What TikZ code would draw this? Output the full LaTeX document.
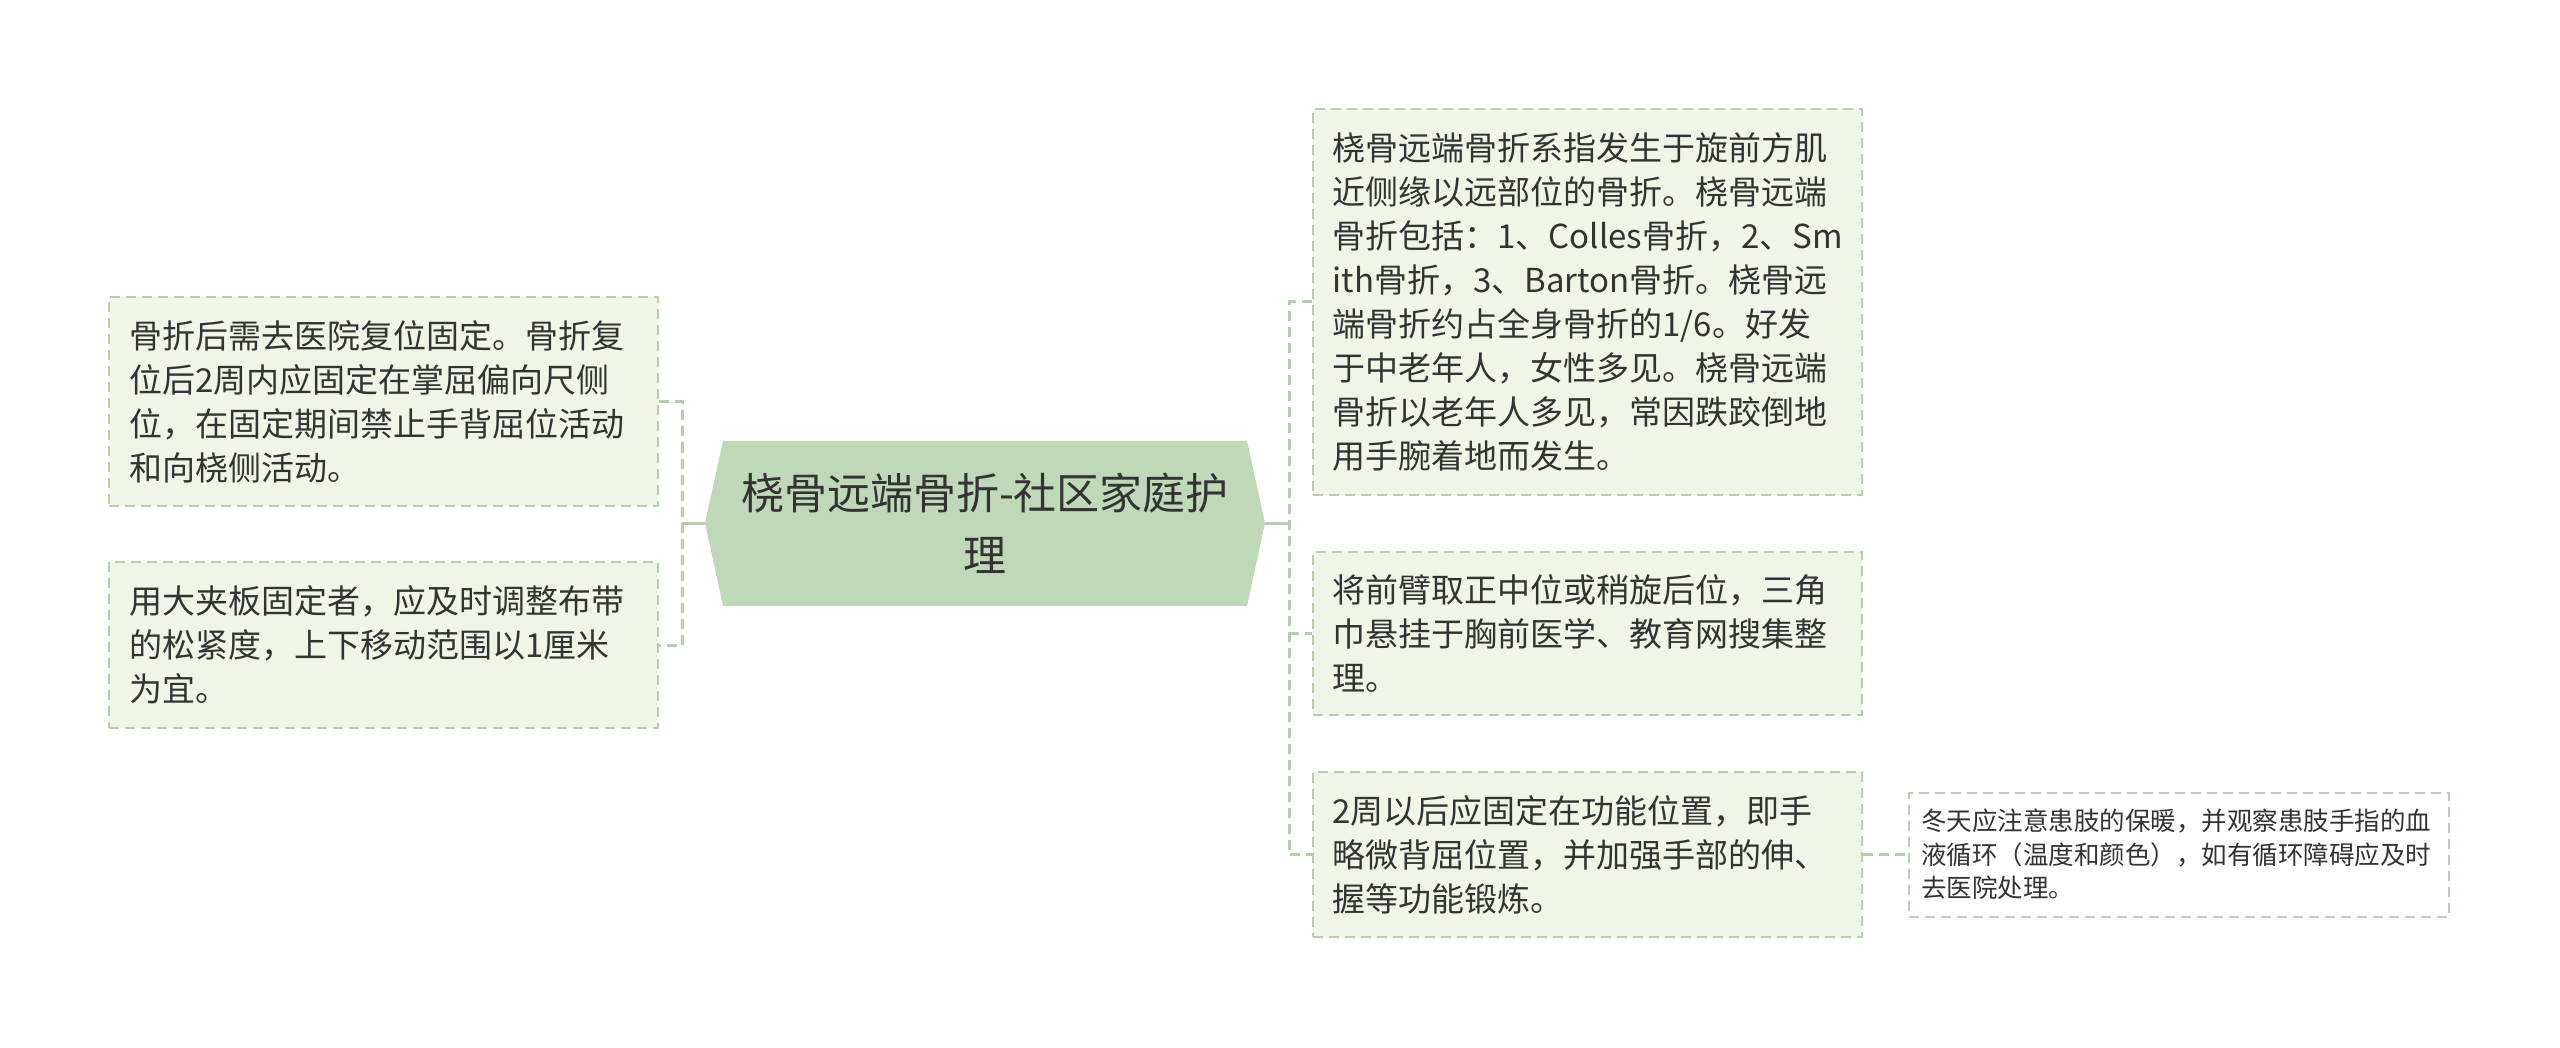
\documentclass[tikz,border=0pt]{standalone}
\usepackage{fontspec}
\setmainfont{Noto Sans CJK SC}
\usetikzlibrary{positioning}
\definecolor{leaffill}{HTML}{EFF6E8}
\definecolor{leafedge}{HTML}{B5CFAE}
\definecolor{rootfill}{HTML}{BFD9B8}
\definecolor{linkcol}{HTML}{B4CFAE}
\definecolor{inkcol}{HTML}{333333}
\tikzset{
  leaf/.style={draw=leafedge, line width=2, dash pattern=on 10 off 6, fill=leaffill,
    minimum width=549, text width=509, inner xsep=20, align=left, text=inkcol,
    font=\fontsize{33}{44}\selectfont},
  smallleaf/.style={leaf, fill=white, minimum width=540, text width=516, inner xsep=12,
    font=\fontsize{25.5}{33.5}\selectfont},
  rootlabel/.style={align=center, text=inkcol, font=\fontsize{43}{62}\selectfont},
  link/.style={draw=linkcol, line width=3, dash pattern=on 10 off 6},
  trunk/.style={draw=linkcol, line width=3}
}
\begin{document}
\begin{tikzpicture}[x=1pt,y=-1pt]
\useasboundingbox (0,0) rectangle (2560,1048);

\coordinate (rootW) at (705,523);
\coordinate (rootE) at (1265,523);
\fill[rootfill] (rootW) -- (723,441) -- (1247,441) -- (rootE) -- (1247,606) -- (723,606) -- cycle;
\node[rootlabel] (root) at (985,523) {桡骨远端骨折-社区家庭护\\理};

\node[leaf, minimum height=209] (l1) at (383.5,401.5) {骨折后需去医院复位固定。骨折复\\位后2周内应固定在掌屈偏向尺侧\\位，在固定期间禁止手背屈位活动\\和向桡侧活动。};
\node[leaf, minimum height=166] (l2) at (383.5,645) {用大夹板固定者，应及时调整布带\\的松紧度，上下移动范围以1厘米\\为宜。};

\node[leaf, minimum height=386] (r1) at (1587,302) {桡骨远端骨折系指发生于旋前方肌\\近侧缘以远部位的骨折。桡骨远端\\骨折包括：1、Colles骨折，2、Sm\\ith骨折，3、Barton骨折。桡骨远\\端骨折约占全身骨折的1/6。好发\\于中老年人，女性多见。桡骨远端\\骨折以老年人多见，常因跌跤倒地\\用手腕着地而发生。};
\node[leaf, minimum height=163] (r2) at (1587,633.5) {将前臂取正中位或稍旋后位，三角\\巾悬挂于胸前医学、教育网搜集整\\理。};
\node[leaf, minimum height=165] (r3) at (1587,854.5) {2周以后应固定在功能位置，即手\\略微背屈位置，并加强手部的伸、\\握等功能锻炼。};
\node[smallleaf, minimum height=124] (s1) at (2179,854.5) {冬天应注意患肢的保暖，并观察患肢手指的血\\液循环（温度和颜色），如有循环障碍应及时\\去医院处理。};

\coordinate (ljoin) at (682,523);
\coordinate (rjoin) at (1289,523);
\draw[trunk] (rootW) -- (ljoin);
\draw[link] (l1.east) -- (l1.east -| ljoin) -- (l2.east -| ljoin) -- (l2.east);
\draw[trunk] (rootE) -- (rjoin);
\draw[link] (r1.west) -- (r1.west -| rjoin) -- (r3.west -| rjoin) -- (r3.west);
\draw[link] (r2.west -| rjoin) -- (r2.west);
\draw[link] (r3.east) -- (s1.west);
\end{tikzpicture}
\end{document}
